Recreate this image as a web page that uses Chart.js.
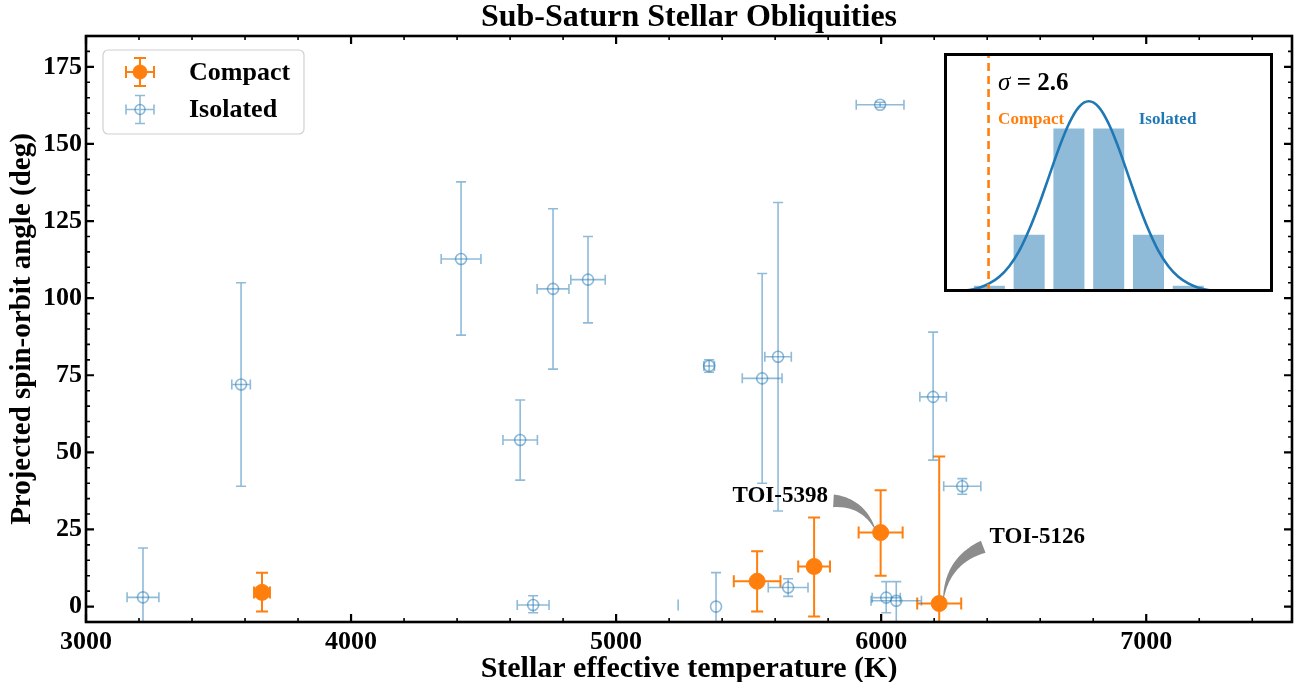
<!DOCTYPE html>
<html><head><meta charset="utf-8">
<script src="https://cdn.jsdelivr.net/npm/chart.js@4.4.1/dist/chart.umd.min.js"></script>
<style>
html,body{margin:0;padding:0;background:#fff;}
#wrap{position:relative;width:1296px;height:682px;overflow:hidden;}
#main{position:absolute;left:0;top:0;}
#inset{position:absolute;left:944px;top:53px;}
</style></head><body>
<div id="wrap"><canvas id="main" width="1296" height="682"></canvas><canvas id="inset" width="329" height="239"></canvas></div>
<script>
const SERIF = "'Liberation Serif','Times New Roman',serif";

// ---- text ----
const chartTitle = 'Sub-Saturn Stellar Obliquities';
const xTitle = 'Stellar effective temperature (K)';
const yTitle = 'Projected spin-orbit angle (deg)';
const seriesNames = ['Compact', 'Isolated'];

// ---- axes ----
const xMin = 3000, xMax = 7550, xMinorStep = 200;
const yMin = -5, yMax = 185, yMinorStep = 5;
const xTickValues = [3000, 4000, 5000, 6000, 7000];
const yTickValues = [0, 25, 50, 75, 100, 125, 150, 175];

// ---- Compact systems ----
const compactTeff    = [3664, 5532, 5747, 5998, 6219];
const compactTeffErr = [30, 88, 60, 83, 83];
const compactLambda  = [4.6, 8.2, 13, 24, 1];
const compactErrHi   = [6.4, 9.7, 15.9, 13.7, 47.7];
const compactErrLo   = [6.2, 9.8, 16.2, 14, 20];

// ---- Isolated systems ----
const isoTeff    = [3215, 3585, 4415, 4638, 4762, 4894, 4687, 5234, 5377, 5351, 5551, 5611, 5649, 5996, 6019, 6057, 6196, 6306];
const isoTeffErr = [60, 35, 75, 65, 60, 65, 60, 0, 0, 20, 75, 50, 75, 90, 53, 95, 50, 70];
const isoLambda  = [3, 72, 112.7, 54, 103, 106, 0.5, 0.5, 0, 78, 74, 81, 6.2, 162.7, 2.9, 1.9, 68, 39];
const isoErrHi   = [16, 33, 25, 13, 26, 14, 3, 1.8, 11, 2, 34, 50, 2.8, 0.8, 5.2, 6.2, 21, 2.5];
const isoErrLo   = [16, 33, 24.7, 13, 26, 14, 2.5, 1.8, 11, 2, 34, 50, 2.9, 0.8, 4.9, 8, 20.5, 2.6];
const isoNoMarker = [0, 0, 0, 0, 0, 0, 0, 1, 0, 0, 0, 0, 0, 0, 0, 0, 0, 0];

// ---- annotations ----
const annotLabels  = ['TOI-5398', 'TOI-5126'];
const annotTargetX = [5998, 6219];
const annotTargetY = [24, 1];
const annotTextX   = [5619, 6589];
const annotTextY   = [35.7, 22.4];
const annotTailX   = [5820, 6385];
const annotTailY   = [34.3, 19.4];
const annotRad     = [0.3, -0.3];

// ---- inset ----
const histCenters = [-2.5, -1.5, -0.5, 0.5, 1.5, 2.5];
const histHeights = [0.013, 0.120, 0.342, 0.342, 0.120, 0.013];
const curveX = [-3.25,-3,-2.75,-2.5,-2.25,-2,-1.75,-1.5,-1.25,-1,-0.75,-0.5,-0.25,0,0.25,0.5,0.75,1,1.25,1.5,1.75,2,2.25,2.5,2.75,3,3.25,3.5,3.75,4,4.25];
const curveY = [0.002,0.004,0.009,0.018,0.032,0.054,0.086,0.130,0.183,0.242,0.301,0.352,0.387,0.399,0.387,0.352,0.301,0.242,0.183,0.130,0.086,0.054,0.032,0.018,0.009,0.004,0.002,0.001,0.000,0.000,0.000];
const compactSigmaLine = -2.52;
const insetXMin = -3.64, insetXMax = 4.63, insetYMin = 0, insetYMax = 0.5;
const sigmaLabel = '2.6';

const ORANGE = '#ff7f0e';
const BLUE = '#1f77b4';
const BLUE_A = 'rgba(31,119,180,0.5)';

function pts(xs, ys){ return xs.map((v,i)=>({x:v, y:ys[i]})); }

const whiteBg = {
  id:'whiteBg',
  beforeDraw(c){ const g=c.ctx; g.save(); g.fillStyle='#fff'; g.fillRect(0,0,c.width,c.height); g.restore(); }
};

const errorBars = {
  id:'errorBars',
  beforeDatasetsDraw(chart){
    const {ctx, chartArea:a, scales:{x,y}} = chart;
    ctx.save();
    ctx.beginPath(); ctx.rect(a.left, a.top, a.right-a.left, a.bottom-a.top); ctx.clip();
    chart.data.datasets.forEach(ds=>{
      const e = ds.err; if(!e) return;
      ctx.strokeStyle = e.color; ctx.lineWidth = e.width; ctx.lineCap='butt';
      ds.data.forEach((p,i)=>{
        const px = x.getPixelForValue(p.x), py = y.getPixelForValue(p.y);
        const cap = e.noCap && e.noCap[i] ? 0 : e.cap;
        const yh = y.getPixelForValue(p.y + e.hi[i]), yl = y.getPixelForValue(p.y - e.lo[i]);
        ctx.beginPath(); ctx.moveTo(px, yh); ctx.lineTo(px, yl);
        if(cap){ ctx.moveTo(px-cap, yh); ctx.lineTo(px+cap, yh); ctx.moveTo(px-cap, yl); ctx.lineTo(px+cap, yl); }
        ctx.stroke();
        if(e.xe[i] > 0){
          const xl = x.getPixelForValue(p.x - e.xe[i]), xr = x.getPixelForValue(p.x + e.xe[i]);
          ctx.beginPath(); ctx.moveTo(xl, py); ctx.lineTo(xr, py);
          if(cap){ ctx.moveTo(xl, py-cap); ctx.lineTo(xl, py+cap); ctx.moveTo(xr, py-cap); ctx.lineTo(xr, py+cap); }
          ctx.stroke();
        }
      });
    });
    ctx.restore();
  }
};

const frameAndTicks = {
  id:'frameAndTicks',
  afterDraw(chart){
    const {ctx, chartArea:a, scales:{x,y}} = chart;
    const isMajorX = v => xTickValues.some(t => Math.abs(t-v) < 1e-6);
    const isMajorY = v => yTickValues.some(t => Math.abs(t-v) < 1e-6);
    ctx.save();
    ctx.strokeStyle = '#000';
    ctx.lineWidth = 1.6;
    ctx.beginPath();
    for(let v = xMin; v <= xMax + 1e-6; v += xMinorStep){
      if(isMajorX(v)) continue;
      const px = x.getPixelForValue(v);
      ctx.moveTo(px, a.bottom); ctx.lineTo(px, a.bottom-4);
      ctx.moveTo(px, a.top); ctx.lineTo(px, a.top+4);
    }
    for(let v = 0; v <= yMax + 1e-6; v += yMinorStep){
      if(isMajorY(v)) continue;
      const py = y.getPixelForValue(v);
      ctx.moveTo(a.left, py); ctx.lineTo(a.left+4, py);
      ctx.moveTo(a.right, py); ctx.lineTo(a.right-4, py);
    }
    ctx.stroke();
    ctx.lineWidth = 2.2;
    ctx.beginPath();
    x.ticks.forEach(t=>{ const px = x.getPixelForValue(t.value);
      ctx.moveTo(px, a.bottom); ctx.lineTo(px, a.bottom-8);
      ctx.moveTo(px, a.top); ctx.lineTo(px, a.top+8); });
    y.ticks.forEach(t=>{ const py = y.getPixelForValue(t.value);
      ctx.moveTo(a.left, py); ctx.lineTo(a.left+8, py);
      ctx.moveTo(a.right, py); ctx.lineTo(a.right-8, py); });
    ctx.stroke();
    ctx.lineWidth = 2.6;
    ctx.strokeRect(a.left, a.top, a.right-a.left, a.bottom-a.top);
    ctx.fillStyle = '#000';
    ctx.font = 'bold 32px ' + SERIF;
    ctx.textAlign = 'center'; ctx.textBaseline = 'middle';
    ctx.fillText(chartTitle, (a.left+a.right)/2, 18);
    ctx.restore();
  }
};

const legendBox = {
  id:'legendBox',
  afterDraw(chart){
    const {ctx, chartArea:a} = chart;
    const bx = a.left + 17, by = a.top + 14, bw = 201, bh = 84;
    ctx.save();
    ctx.fillStyle = 'rgba(255,255,255,0.85)';
    ctx.strokeStyle = '#d0d0d0'; ctx.lineWidth = 1.2;
    ctx.beginPath(); ctx.roundRect(bx, by, bw, bh, 5); ctx.fill(); ctx.stroke();
    chart.data.datasets.forEach((ds, i)=>{
      const cx = bx + 37, cy = by + 22 + i*37.5;
      const e = ds.err;
      ctx.strokeStyle = e.color; ctx.lineWidth = e.width;
      ctx.beginPath();
      ctx.moveTo(cx-14, cy); ctx.lineTo(cx+14, cy);
      ctx.moveTo(cx, cy-14); ctx.lineTo(cx, cy+14);
      ctx.moveTo(cx-14, cy-e.cap); ctx.lineTo(cx-14, cy+e.cap);
      ctx.moveTo(cx+14, cy-e.cap); ctx.lineTo(cx+14, cy+e.cap);
      ctx.moveTo(cx-e.cap, cy-14); ctx.lineTo(cx+e.cap, cy-14);
      ctx.moveTo(cx-e.cap, cy+14); ctx.lineTo(cx+e.cap, cy+14);
      ctx.stroke();
      ctx.beginPath(); ctx.arc(cx, cy, ds.legendRadius, 0, Math.PI*2);
      ctx.fillStyle = ds.backgroundColor; ctx.fill();
      ctx.strokeStyle = ds.borderColor; ctx.lineWidth = ds.borderWidth; ctx.stroke();
      ctx.fillStyle = '#000'; ctx.font = 'bold 26px ' + SERIF;
      ctx.textAlign = 'left'; ctx.textBaseline = 'middle';
      ctx.fillText(ds.label, bx + 86, cy + 1);
    });
    ctx.restore();
  }
};

const annotations = {
  id:'annotations',
  afterDatasetsDraw(chart){
    const {ctx, scales:{x,y}} = chart;
    ctx.save();
    annotLabels.forEach((lab, i)=>{
      const tx = x.getPixelForValue(annotTextX[i]), ty = y.getPixelForValue(annotTextY[i]);
      ctx.fillStyle = '#000'; ctx.font = 'bold 23px ' + SERIF;
      ctx.textAlign = 'center'; ctx.textBaseline = 'middle';
      ctx.fillText(lab, tx, ty);
      const x0 = x.getPixelForValue(annotTailX[i]), y0 = y.getPixelForValue(annotTailY[i]);
      let x1 = x.getPixelForValue(annotTargetX[i]), y1 = y.getPixelForValue(annotTargetY[i]);
      const dd = Math.hypot(x0-x1, y0-y1);
      x1 += (x0-x1)/dd*7; y1 += (y0-y1)/dd*7;
      const dx = x1-x0, dy = y1-y0, r = annotRad[i];
      const cx = (x0+x1)/2 + r*dy, cy = (y0+y1)/2 - r*dx;
      const N = 40, left = [], right = [];
      for(let k=0;k<=N;k++){
        const t = k/N;
        const px = (1-t)*(1-t)*x0 + 2*(1-t)*t*cx + t*t*x1;
        const py = (1-t)*(1-t)*y0 + 2*(1-t)*t*cy + t*t*y1;
        const vx = 2*(1-t)*(cx-x0) + 2*t*(x1-cx), vy = 2*(1-t)*(cy-y0) + 2*t*(y1-cy);
        const vl = Math.hypot(vx, vy);
        const nx = -vy/vl, ny = vx/vl;
        const w = 6*(1-t) + 0.4;
        left.push([px+nx*w, py+ny*w]); right.push([px-nx*w, py-ny*w]);
      }
      ctx.beginPath();
      ctx.moveTo(left[0][0], left[0][1]);
      left.forEach(p=>ctx.lineTo(p[0], p[1]));
      right.reverse().forEach(p=>ctx.lineTo(p[0], p[1]));
      ctx.closePath();
      ctx.fillStyle = '#8c8c8c'; ctx.fill();
    });
    ctx.restore();
  }
};

new Chart(document.getElementById('main'), {
  type: 'scatter',
  data: {
    datasets: [
      {
        label: seriesNames[0],
        data: pts(compactTeff, compactLambda),
        pointRadius: 8, pointHoverRadius: 8, legendRadius: 7,
        backgroundColor: ORANGE, borderColor: ORANGE, borderWidth: 1,
        err: {xe: compactTeffErr, hi: compactErrHi, lo: compactErrLo, color: ORANGE, width: 2, cap: 6}
      },
      {
        label: seriesNames[1],
        data: pts(isoTeff, isoLambda),
        pointRadius: isoNoMarker.map(h => h ? 0 : 5.5), legendRadius: 5,
        backgroundColor: 'rgba(255,255,255,0)', borderColor: BLUE_A, borderWidth: 1.6,
        err: {xe: isoTeffErr, hi: isoErrHi, lo: isoErrLo, color: BLUE_A, width: 1.6, cap: 5, noCap: isoNoMarker}
      }
    ]
  },
  options: {
    responsive: false, animation: false, devicePixelRatio: 1,
    layout: {autoPadding: false, padding: {top: 36, right: 4, left: 0, bottom: 0}},
    plugins: {legend: {display: false}, title: {display: false}, tooltip: {enabled: false}},
    scales: {
      x: {
        type: 'linear', min: xMin, max: xMax,
        grid: {display: false}, border: {display: false},
        afterBuildTicks(s){ s.ticks = xTickValues.map(v => ({value: v})); },
        ticks: {color: '#000', padding: -3, autoSkip: false, maxRotation: 0,
                callback: v => String(v),
                font: {family: SERIF, size: 26, weight: 'bold'}},
        title: {display: true, text: xTitle, color: '#000', padding: {top: 0, bottom: -1},
                font: {family: SERIF, size: 30, weight: 'bold', lineHeight: 0.9}},
        afterFit(s){ s.height = 60; s.paddingLeft = 0; s.paddingRight = 0; }
      },
      y: {
        type: 'linear', min: yMin, max: yMax,
        grid: {display: false}, border: {display: false},
        afterBuildTicks(s){ s.ticks = yTickValues.map(v => ({value: v})); },
        ticks: {color: '#000', padding: -4, autoSkip: false,
                callback: v => String(v),
                font: {family: SERIF, size: 26, weight: 'bold'}},
        title: {display: true, text: yTitle, color: '#000', padding: {top: 5, bottom: 0},
                font: {family: SERIF, size: 29, weight: 'bold', lineHeight: 1.2}},
        afterFit(s){ s.width = 86; }
      }
    }
  },
  plugins: [whiteBg, errorBars, annotations, frameAndTicks, legendBox]
});

// ---- inset ----
const insetDecor = {
  id:'insetDecor',
  afterDraw(chart){
    const {ctx, scales:{x,y}} = chart;
    ctx.save();
    ctx.textBaseline = 'middle'; ctx.textAlign = 'left';
    let sx = x.getPixelForValue(-2.28), sy = y.getPixelForValue(0.437);
    ctx.fillStyle = '#000';
    ctx.font = 'italic 25px ' + SERIF;
    ctx.fillText('\u03c3', sx, sy);
    sx += ctx.measureText('\u03c3').width;
    ctx.font = 'bold 25px ' + SERIF;
    ctx.fillText(' = ' + sigmaLabel, sx, sy);
    ctx.font = 'bold 17px ' + SERIF;
    ctx.fillStyle = ORANGE;
    ctx.fillText(seriesNames[0], x.getPixelForValue(-2.28), y.getPixelForValue(0.361));
    ctx.fillStyle = BLUE;
    ctx.fillText(seriesNames[1], x.getPixelForValue(1.255), y.getPixelForValue(0.361));
    ctx.strokeStyle = '#000'; ctx.lineWidth = 3;
    ctx.strokeRect(1.5, 1.5, chart.width-3, chart.height-3);
    ctx.restore();
  }
};

new Chart(document.getElementById('inset'), {
  data: {
    datasets: [
      {type: 'bar', data: pts(histCenters, histHeights), backgroundColor: 'rgba(31,119,180,0.5)',
       borderWidth: 0, barPercentage: 0.78, categoryPercentage: 1, order: 3},
      {type: 'line', data: pts(curveX, curveY), borderColor: BLUE, borderWidth: 2.6,
       pointRadius: 0, tension: 0.35, fill: false, order: 2},
      {type: 'line', data: [{x: compactSigmaLine, y: insetYMin}, {x: compactSigmaLine, y: insetYMax}],
       borderColor: ORANGE, borderWidth: 2.6, borderDash: [8, 5], pointRadius: 0, order: 1}
    ]
  },
  options: {
    responsive: false, animation: false, devicePixelRatio: 1,
    layout: {autoPadding: false, padding: 0},
    plugins: {legend: {display: false}, tooltip: {enabled: false}},
    scales: {
      x: {type: 'linear', min: insetXMin, max: insetXMax, display: false, offset: false},
      y: {type: 'linear', min: insetYMin, max: insetYMax, display: false}
    }
  },
  plugins: [whiteBg, insetDecor]
});
</script>
</body></html>
